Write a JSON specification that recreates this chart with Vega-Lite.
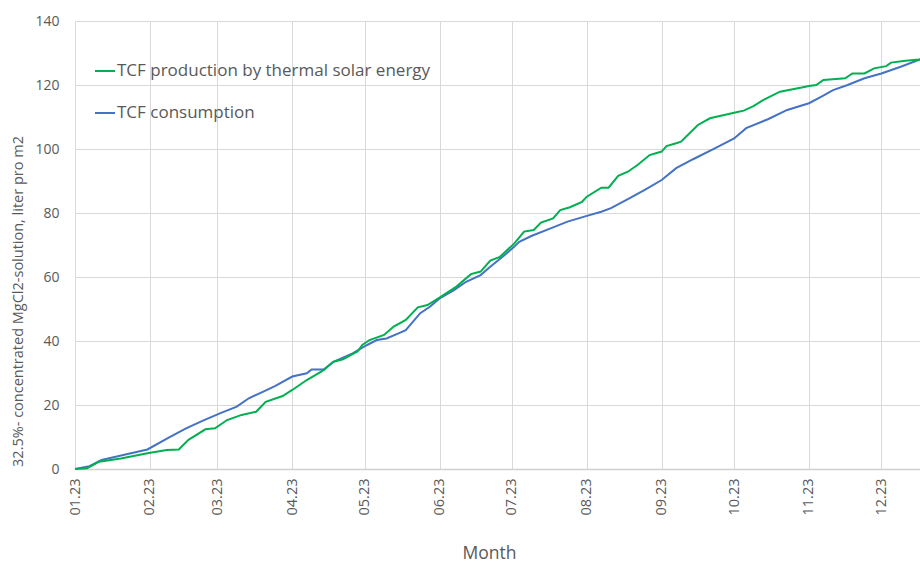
{
  "$schema": "https://vega.github.io/schema/vega-lite/v6.json",
  "width": 845,
  "height": 448,
  "autosize": "none",
  "padding": {"left": 75, "top": 21, "right": 0, "bottom": 94},
  "background": "white",
  "config": {
    "font": "Open Sans",
    "view": {"stroke": null}
  },
  "data": {
    "values": [
      {"d": "2023-01-01", "v": 0, "s": "TCF consumption"},
      {"d": "2023-01-07", "v": 0.9, "s": "TCF consumption"},
      {"d": "2023-01-12", "v": 2.8, "s": "TCF consumption"},
      {"d": "2023-01-21", "v": 4.4, "s": "TCF consumption"},
      {"d": "2023-01-31", "v": 6.1, "s": "TCF consumption"},
      {"d": "2023-02-09", "v": 9.9, "s": "TCF consumption"},
      {"d": "2023-02-16", "v": 12.7, "s": "TCF consumption"},
      {"d": "2023-02-23", "v": 15.1, "s": "TCF consumption"},
      {"d": "2023-03-02", "v": 17.4, "s": "TCF consumption"},
      {"d": "2023-03-09", "v": 19.5, "s": "TCF consumption"},
      {"d": "2023-03-14", "v": 22.1, "s": "TCF consumption"},
      {"d": "2023-03-20", "v": 24.2, "s": "TCF consumption"},
      {"d": "2023-03-25", "v": 26.0, "s": "TCF consumption"},
      {"d": "2023-04-01", "v": 28.9, "s": "TCF consumption"},
      {"d": "2023-04-07", "v": 29.9, "s": "TCF consumption"},
      {"d": "2023-04-09", "v": 31.1, "s": "TCF consumption"},
      {"d": "2023-04-14", "v": 31.1, "s": "TCF consumption"},
      {"d": "2023-04-18", "v": 33.5, "s": "TCF consumption"},
      {"d": "2023-04-26", "v": 36.1, "s": "TCF consumption"},
      {"d": "2023-05-02", "v": 38.75, "s": "TCF consumption"},
      {"d": "2023-05-06", "v": 40.3, "s": "TCF consumption"},
      {"d": "2023-05-10", "v": 40.8, "s": "TCF consumption"},
      {"d": "2023-05-15", "v": 42.4, "s": "TCF consumption"},
      {"d": "2023-05-18", "v": 43.4, "s": "TCF consumption"},
      {"d": "2023-05-24", "v": 48.7, "s": "TCF consumption"},
      {"d": "2023-05-28", "v": 50.7, "s": "TCF consumption"},
      {"d": "2023-06-01", "v": 53.3, "s": "TCF consumption"},
      {"d": "2023-06-07", "v": 55.9, "s": "TCF consumption"},
      {"d": "2023-06-12", "v": 58.5, "s": "TCF consumption"},
      {"d": "2023-06-18", "v": 60.6, "s": "TCF consumption"},
      {"d": "2023-06-22", "v": 63.2, "s": "TCF consumption"},
      {"d": "2023-06-28", "v": 66.9, "s": "TCF consumption"},
      {"d": "2023-07-02", "v": 69.5, "s": "TCF consumption"},
      {"d": "2023-07-04", "v": 71.0, "s": "TCF consumption"},
      {"d": "2023-07-09", "v": 72.8, "s": "TCF consumption"},
      {"d": "2023-07-17", "v": 75.2, "s": "TCF consumption"},
      {"d": "2023-07-24", "v": 77.3, "s": "TCF consumption"},
      {"d": "2023-08-01", "v": 79.1, "s": "TCF consumption"},
      {"d": "2023-08-07", "v": 80.4, "s": "TCF consumption"},
      {"d": "2023-08-11", "v": 81.5, "s": "TCF consumption"},
      {"d": "2023-08-18", "v": 84.3, "s": "TCF consumption"},
      {"d": "2023-08-25", "v": 87.2, "s": "TCF consumption"},
      {"d": "2023-09-01", "v": 90.3, "s": "TCF consumption"},
      {"d": "2023-09-07", "v": 94.0, "s": "TCF consumption"},
      {"d": "2023-09-14", "v": 96.8, "s": "TCF consumption"},
      {"d": "2023-09-23", "v": 100.2, "s": "TCF consumption"},
      {"d": "2023-10-01", "v": 103.3, "s": "TCF consumption"},
      {"d": "2023-10-06", "v": 106.5, "s": "TCF consumption"},
      {"d": "2023-10-15", "v": 109.3, "s": "TCF consumption"},
      {"d": "2023-10-23", "v": 112.2, "s": "TCF consumption"},
      {"d": "2023-11-01", "v": 114.3, "s": "TCF consumption"},
      {"d": "2023-11-06", "v": 116.3, "s": "TCF consumption"},
      {"d": "2023-11-11", "v": 118.4, "s": "TCF consumption"},
      {"d": "2023-11-17", "v": 120.0, "s": "TCF consumption"},
      {"d": "2023-11-24", "v": 122.1, "s": "TCF consumption"},
      {"d": "2023-12-01", "v": 123.6, "s": "TCF consumption"},
      {"d": "2023-12-09", "v": 125.7, "s": "TCF consumption"},
      {"d": "2023-12-17", "v": 128.0, "s": "TCF consumption"},
      {"d": "2023-01-01", "v": 0, "s": "TCF production by thermal solar energy"},
      {"d": "2023-01-06", "v": 0.2, "s": "TCF production by thermal solar energy"},
      {"d": "2023-01-11", "v": 2.3, "s": "TCF production by thermal solar energy"},
      {"d": "2023-01-20", "v": 3.3, "s": "TCF production by thermal solar energy"},
      {"d": "2023-01-31", "v": 4.9, "s": "TCF production by thermal solar energy"},
      {"d": "2023-02-08", "v": 5.9, "s": "TCF production by thermal solar energy"},
      {"d": "2023-02-13", "v": 6.1, "s": "TCF production by thermal solar energy"},
      {"d": "2023-02-17", "v": 9.1, "s": "TCF production by thermal solar energy"},
      {"d": "2023-02-24", "v": 12.4, "s": "TCF production by thermal solar energy"},
      {"d": "2023-02-28", "v": 12.7, "s": "TCF production by thermal solar energy"},
      {"d": "2023-03-05", "v": 15.3, "s": "TCF production by thermal solar energy"},
      {"d": "2023-03-11", "v": 16.9, "s": "TCF production by thermal solar energy"},
      {"d": "2023-03-17", "v": 17.9, "s": "TCF production by thermal solar energy"},
      {"d": "2023-03-21", "v": 21.0, "s": "TCF production by thermal solar energy"},
      {"d": "2023-03-28", "v": 22.8, "s": "TCF production by thermal solar energy"},
      {"d": "2023-04-01", "v": 24.7, "s": "TCF production by thermal solar energy"},
      {"d": "2023-04-07", "v": 27.8, "s": "TCF production by thermal solar energy"},
      {"d": "2023-04-14", "v": 30.9, "s": "TCF production by thermal solar energy"},
      {"d": "2023-04-18", "v": 33.5, "s": "TCF production by thermal solar energy"},
      {"d": "2023-04-22", "v": 34.3, "s": "TCF production by thermal solar energy"},
      {"d": "2023-04-28", "v": 36.7, "s": "TCF production by thermal solar energy"},
      {"d": "2023-04-30", "v": 38.75, "s": "TCF production by thermal solar energy"},
      {"d": "2023-05-03", "v": 40.3, "s": "TCF production by thermal solar energy"},
      {"d": "2023-05-09", "v": 41.9, "s": "TCF production by thermal solar energy"},
      {"d": "2023-05-13", "v": 44.5, "s": "TCF production by thermal solar energy"},
      {"d": "2023-05-18", "v": 46.6, "s": "TCF production by thermal solar energy"},
      {"d": "2023-05-23", "v": 50.5, "s": "TCF production by thermal solar energy"},
      {"d": "2023-05-27", "v": 51.25, "s": "TCF production by thermal solar energy"},
      {"d": "2023-06-01", "v": 53.6, "s": "TCF production by thermal solar energy"},
      {"d": "2023-06-08", "v": 57.0, "s": "TCF production by thermal solar energy"},
      {"d": "2023-06-14", "v": 60.9, "s": "TCF production by thermal solar energy"},
      {"d": "2023-06-18", "v": 61.7, "s": "TCF production by thermal solar energy"},
      {"d": "2023-06-22", "v": 65.1, "s": "TCF production by thermal solar energy"},
      {"d": "2023-06-26", "v": 66.3, "s": "TCF production by thermal solar energy"},
      {"d": "2023-07-02", "v": 70.5, "s": "TCF production by thermal solar energy"},
      {"d": "2023-07-06", "v": 74.2, "s": "TCF production by thermal solar energy"},
      {"d": "2023-07-10", "v": 74.7, "s": "TCF production by thermal solar energy"},
      {"d": "2023-07-13", "v": 77.0, "s": "TCF production by thermal solar energy"},
      {"d": "2023-07-18", "v": 78.3, "s": "TCF production by thermal solar energy"},
      {"d": "2023-07-21", "v": 80.9, "s": "TCF production by thermal solar energy"},
      {"d": "2023-07-25", "v": 81.8, "s": "TCF production by thermal solar energy"},
      {"d": "2023-07-30", "v": 83.5, "s": "TCF production by thermal solar energy"},
      {"d": "2023-08-01", "v": 85.1, "s": "TCF production by thermal solar energy"},
      {"d": "2023-08-07", "v": 87.9, "s": "TCF production by thermal solar energy"},
      {"d": "2023-08-10", "v": 87.9, "s": "TCF production by thermal solar energy"},
      {"d": "2023-08-14", "v": 91.6, "s": "TCF production by thermal solar energy"},
      {"d": "2023-08-18", "v": 92.9, "s": "TCF production by thermal solar energy"},
      {"d": "2023-08-22", "v": 95.0, "s": "TCF production by thermal solar energy"},
      {"d": "2023-08-27", "v": 98.1, "s": "TCF production by thermal solar energy"},
      {"d": "2023-09-01", "v": 99.2, "s": "TCF production by thermal solar energy"},
      {"d": "2023-09-03", "v": 100.9, "s": "TCF production by thermal solar energy"},
      {"d": "2023-09-07", "v": 101.8, "s": "TCF production by thermal solar energy"},
      {"d": "2023-09-09", "v": 102.3, "s": "TCF production by thermal solar energy"},
      {"d": "2023-09-16", "v": 107.5, "s": "TCF production by thermal solar energy"},
      {"d": "2023-09-21", "v": 109.6, "s": "TCF production by thermal solar energy"},
      {"d": "2023-10-01", "v": 111.3, "s": "TCF production by thermal solar energy"},
      {"d": "2023-10-05", "v": 112.0, "s": "TCF production by thermal solar energy"},
      {"d": "2023-10-09", "v": 113.4, "s": "TCF production by thermal solar energy"},
      {"d": "2023-10-13", "v": 115.3, "s": "TCF production by thermal solar energy"},
      {"d": "2023-10-20", "v": 117.9, "s": "TCF production by thermal solar energy"},
      {"d": "2023-10-29", "v": 119.2, "s": "TCF production by thermal solar energy"},
      {"d": "2023-11-01", "v": 119.7, "s": "TCF production by thermal solar energy"},
      {"d": "2023-11-04", "v": 120.0, "s": "TCF production by thermal solar energy"},
      {"d": "2023-11-07", "v": 121.6, "s": "TCF production by thermal solar energy"},
      {"d": "2023-11-16", "v": 122.1, "s": "TCF production by thermal solar energy"},
      {"d": "2023-11-19", "v": 123.6, "s": "TCF production by thermal solar energy"},
      {"d": "2023-11-24", "v": 123.6, "s": "TCF production by thermal solar energy"},
      {"d": "2023-11-28", "v": 125.2, "s": "TCF production by thermal solar energy"},
      {"d": "2023-12-03", "v": 125.9, "s": "TCF production by thermal solar energy"},
      {"d": "2023-12-05", "v": 127.0, "s": "TCF production by thermal solar energy"},
      {"d": "2023-12-11", "v": 127.6, "s": "TCF production by thermal solar energy"},
      {"d": "2023-12-17", "v": 128.0, "s": "TCF production by thermal solar energy"}
    ]
  },
  "mark": {"type": "line", "strokeWidth": 2, "interpolate": "linear"},
  "encoding": {
    "x": {
      "field": "d",
      "type": "temporal",
      "title": "Month",
      "scale": {
        "type": "utc",
        "domain": [
          {"year": 2023, "month": 1, "date": 1, "utc": true},
          {"year": 2023, "month": 12, "date": 17, "utc": true}
        ],
        "nice": false
      },
      "axis": {
        "values": [
          {"year": 2023, "month": 1, "date": 1, "utc": true},
          {"year": 2023, "month": 2, "date": 1, "utc": true},
          {"year": 2023, "month": 3, "date": 1, "utc": true},
          {"year": 2023, "month": 4, "date": 1, "utc": true},
          {"year": 2023, "month": 5, "date": 1, "utc": true},
          {"year": 2023, "month": 6, "date": 1, "utc": true},
          {"year": 2023, "month": 7, "date": 1, "utc": true},
          {"year": 2023, "month": 8, "date": 1, "utc": true},
          {"year": 2023, "month": 9, "date": 1, "utc": true},
          {"year": 2023, "month": 10, "date": 1, "utc": true},
          {"year": 2023, "month": 11, "date": 1, "utc": true},
          {"year": 2023, "month": 12, "date": 1, "utc": true}
        ],
        "format": "%m.%y",
        "labelAngle": 270,
        "labelFontSize": 14.5,
        "labelColor": "#595959",
        "labelPadding": 9,
        "labelFlush": false,
        "labelOverlap": false,
        "ticks": false,
        "grid": true,
        "gridColor": "#d9d9d9",
        "gridWidth": 1,
        "domainColor": "#d0d0d0",
        "domainWidth": 1.5,
        "titleFontSize": 17.5,
        "titleFontWeight": "normal",
        "titleColor": "#595959",
        "titlePadding": 30,
        "titleX": 414
      }
    },
    "y": {
      "field": "v",
      "type": "quantitative",
      "title": "32.5%- concentrated MgCl2-solution, liter pro m2",
      "scale": {"domain": [0, 140], "nice": false},
      "axis": {
        "values": [0, 20, 40, 60, 80, 100, 120, 140],
        "labelFontSize": 14,
        "labelColor": "#595959",
        "labelPadding": 16,
        "ticks": false,
        "domain": false,
        "grid": true,
        "gridColor": "#d9d9d9",
        "gridWidth": 1,
        "titleFontSize": 14.5,
        "titleFontWeight": "normal",
        "titleColor": "#595959",
        "titleBaseline": "middle",
        "titleX": -57,
        "titleY": 280
      }
    },
    "color": {
      "field": "s",
      "type": "nominal",
      "scale": {
        "domain": ["TCF production by thermal solar energy", "TCF consumption"],
        "range": ["#00B050", "#4472C4"]
      },
      "legend": {
        "title": null,
        "orient": "none",
        "legendX": 19,
        "legendY": 39,
        "symbolType": "stroke",
        "symbolSize": 400,
        "symbolStrokeWidth": 2,
        "labelFontSize": 17,
        "labelColor": "#595959",
        "labelOffset": 1,
        "labelLimit": 500,
        "rowPadding": 23,
        "padding": 0
      }
    }
  }
}
